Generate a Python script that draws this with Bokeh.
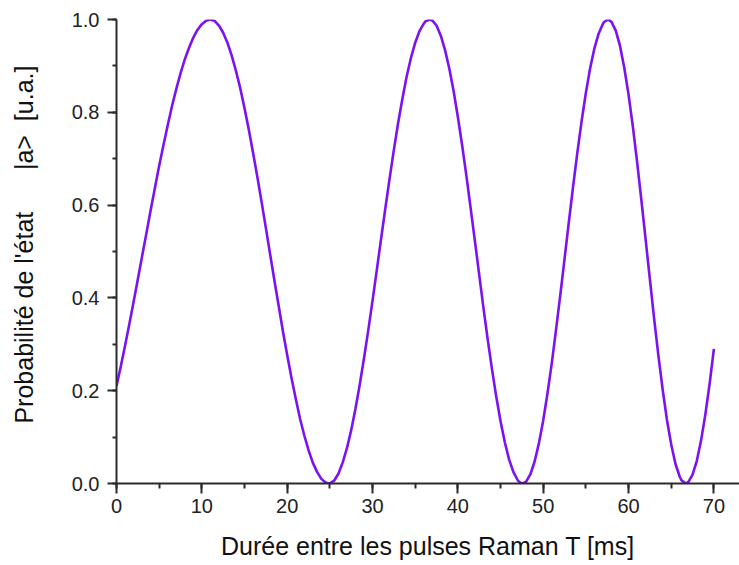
from bokeh.plotting import figure
from bokeh.models import Range1d, SingleIntervalTicker, PrintfTickFormatter
from bokeh.embed import file_html
from bokeh.resources import INLINE

# Data (time in ms, probability)
t_ms = [0, 0.5, 1, 1.5, 2, 2.5, 3, 3.5, 4, 4.5, 5, 5.5, 6, 6.5, 7, 7.5, 8, 8.5, 9, 9.5, 10, 10.5, 11,
        11.5, 12, 12.5, 13, 13.5, 14, 14.5, 15, 15.5, 16, 16.5, 17, 17.5, 18, 18.5, 19, 19.5,
        20, 20.5, 21, 21.5, 22, 22.5, 23, 23.5, 24, 24.5, 24.9,
        25, 25.5, 26, 26.5, 27, 27.5, 28, 28.5, 29, 29.5, 30, 30.5, 31, 31.5, 32, 32.5,
        33, 33.5, 34, 34.5, 35, 35.5, 36, 36.2, 36.7,
        37, 37.5, 38, 38.5, 39, 39.5, 40, 40.5, 41, 41.5, 42, 42.5, 43, 43.5, 44, 44.5,
        45, 45.5, 46, 46.5, 47, 47.2, 47.6,
        48, 48.5, 49, 49.5, 50, 50.5, 51, 51.5, 52, 52.5, 53, 53.5, 54, 54.5,
        55, 55.5, 56, 56.5, 57, 57.1, 57.6,
        58, 58.5, 59, 59.5, 60, 60.5, 61, 61.5, 62, 62.5, 63, 63.5, 64, 64.5,
        65, 65.5, 66, 66.2, 66.7,
        67, 67.5, 68, 68.5, 69, 69.5, 70]
prob = [0.210, 0.252, 0.297, 0.343, 0.391, 0.440, 0.490, 0.539, 0.589, 0.637, 0.685, 0.729,
        0.772, 0.813, 0.850, 0.884, 0.914, 0.939, 0.961, 0.978, 0.990, 0.9975, 1.000,
        0.997, 0.987, 0.9715, 0.950, 0.922, 0.889, 0.852, 0.809, 0.763, 0.713, 0.661, 0.607,
        0.551, 0.494, 0.438, 0.383, 0.328,
        0.277, 0.228, 0.183, 0.140, 0.104, 0.072, 0.045, 0.025, 0.010, 0.002, 0.000,
        0.0002, 0.006, 0.021, 0.045, 0.076, 0.115, 0.161, 0.213, 0.270, 0.330, 0.394, 0.460,
        0.527, 0.593, 0.657, 0.719,
        0.777, 0.829, 0.877, 0.917, 0.950, 0.975, 0.991, 0.996, 1.000,
        0.998, 0.987, 0.965, 0.934, 0.894, 0.846, 0.790, 0.729, 0.663, 0.593, 0.522, 0.450,
        0.378, 0.310, 0.246, 0.187,
        0.134, 0.089, 0.052, 0.025, 0.0075, 0.003, 0.000,
        0.004, 0.020, 0.048, 0.087, 0.136, 0.194, 0.259, 0.331, 0.406, 0.484, 0.563, 0.640,
        0.713, 0.781,
        0.842, 0.895, 0.938, 0.970, 0.991, 0.994, 1.000,
        0.995, 0.976, 0.943, 0.896, 0.838, 0.770, 0.693, 0.611, 0.526, 0.440, 0.355, 0.275,
        0.202, 0.137,
        0.084, 0.042, 0.0145, 0.007, 0.000,
        0.003, 0.019, 0.049, 0.093, 0.149, 0.215, 0.290]

x_ticks_step = 10
y_ticks_step = 0.2

FONT = "Liberation Sans"
AXIS_COL = "#2b2b2b"
NB = "\u00a0"

p = figure(width=739, height=565, output_backend="svg", toolbar_location=None,
           x_range=Range1d(0, 73.0), y_range=Range1d(0, 1.0),
           min_border_left=116, min_border_right=0, min_border_top=19, min_border_bottom=82)

p.line(t_ms, prob, line_color="#7B12F2", line_width=2.6, line_join="round")

p.outline_line_color = None
p.grid.visible = False
p.background_fill_color = "white"
p.border_fill_color = "white"

p.xaxis.ticker = SingleIntervalTicker(interval=x_ticks_step, num_minor_ticks=2)
p.yaxis.ticker = SingleIntervalTicker(interval=y_ticks_step, num_minor_ticks=2)
p.yaxis.formatter = PrintfTickFormatter(format="%.1f")

p.xaxis.axis_label = "Durée entre les pulses Raman T [ms]"
p.yaxis.axis_label = NB * 2 + "Probabilité de l'état" + NB * 6 + "|a>" + NB * 2 + "[u.a.]"

for ax in (p.xaxis, p.yaxis):
    ax.axis_line_color = AXIS_COL
    ax.axis_line_width = 2
    ax.major_tick_line_color = AXIS_COL
    ax.major_tick_line_width = 2
    ax.minor_tick_line_color = AXIS_COL
    ax.minor_tick_line_width = 2
    ax.major_tick_in = 0
    ax.minor_tick_in = 0
    ax.major_label_text_font = FONT
    ax.major_label_text_font_size = "20px"
    ax.major_label_text_color = "#222222"
    ax.axis_label_text_font = FONT
    ax.axis_label_text_font_size = "25px"
    ax.axis_label_text_font_style = "normal"
    ax.axis_label_text_color = "#111111"

p.xaxis.major_tick_out = 10
p.xaxis.minor_tick_out = 5
p.xaxis.major_label_standoff = 5
p.xaxis.axis_label_standoff = 16

p.yaxis.major_tick_out = 9
p.yaxis.minor_tick_out = 4
p.yaxis.major_label_standoff = 8
p.yaxis.axis_label_standoff = 31

open("out.html", "w").write(file_html(p, INLINE))
